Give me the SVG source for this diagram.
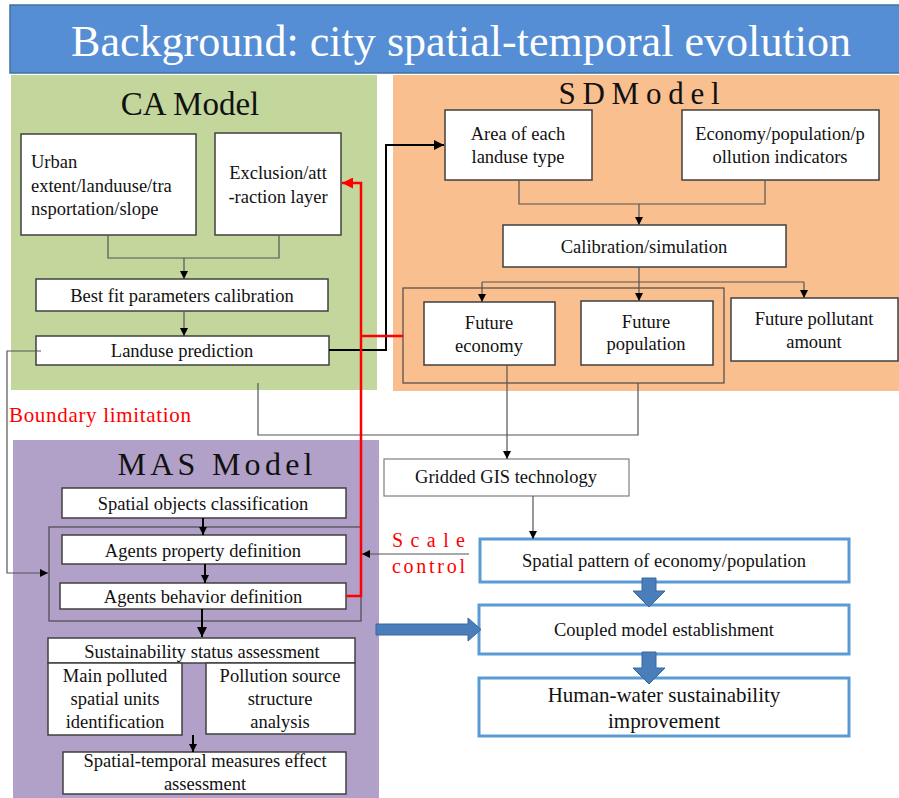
<svg xmlns="http://www.w3.org/2000/svg" width="899" height="798" viewBox="0 0 899 798" font-family="'Liberation Serif', 'DejaVu Serif', serif">
<defs>
<style>
text{font-family:'Liberation Serif','DejaVu Serif',serif;fill:#111;}
.t{font-size:18.5px;text-anchor:middle;}
.tl{font-size:18.5px;}
.box{fill:#fff;stroke:#404040;stroke-width:1.5;}
.bbox{fill:#fff;stroke:#5B9BD5;stroke-width:3;}
.grp{fill:none;stroke:#4a4a4a;stroke-width:1.2;}
.thin{fill:none;stroke:#555;stroke-width:1.2;}
.blk{fill:none;stroke:#000;stroke-width:2;}
.red{fill:none;stroke:#FF0000;stroke-width:2.5;}
.barrow{fill:#4A7EBB;stroke:#3B679C;stroke-width:1;}
.head{font-size:32px;text-anchor:middle;}
.redt{fill:#FF0000;}
</style>
<marker id="a" viewBox="0 0 10 10" refX="10" refY="5" markerWidth="8" markerHeight="8" markerUnits="userSpaceOnUse" orient="auto"><path d="M0,0 L10,5 L0,10 Z" fill="#000"/></marker>
<marker id="ab" viewBox="0 0 10 10" refX="10" refY="5" markerWidth="10" markerHeight="10" markerUnits="userSpaceOnUse" orient="auto"><path d="M0,0 L10,5 L0,10 Z" fill="#000"/></marker>
<marker id="ar" viewBox="0 0 10 10" refX="10" refY="5" markerWidth="11" markerHeight="11" markerUnits="userSpaceOnUse" orient="auto"><path d="M0,0 L10,5 L0,10 Z" fill="#FF0000"/></marker>
</defs>

<!-- Panels -->
<g id="banner">
<rect x="10" y="5" width="895" height="68" fill="#558ED5" stroke="#41719C" stroke-width="1.5"/>
<text x="461" y="56" font-size="44" text-anchor="middle" style="fill:#fff" textLength="780">Background: city spatial-temporal evolution</text>
</g>
<g id="ca-panel">
<rect x="11" y="75" width="366" height="315" fill="#C3D69B"/>
<text class="head" x="190" y="115" style="font-size:33px">CA Model</text>
</g>
<g id="sd-panel">
<rect x="393" y="75" width="506" height="316" fill="#F9BF8F"/>
<text class="head" x="639" y="104" style="font-size:31px" textLength="161" lengthAdjust="spacing">SDModel</text>
</g>
<g id="mas-panel">
<rect x="13" y="440" width="366" height="358" fill="#B1A0C7"/>
<text class="head" x="215" y="475" textLength="195" lengthAdjust="spacing">MAS Model</text>
</g>

<!-- CA nodes -->
<g id="urban">
<rect class="box" x="21" y="134" width="175" height="101"/>
<text class="tl" x="31" y="168">Urban</text>
<text class="tl" x="31" y="192">extent/landuuse/tra</text>
<text class="tl" x="31" y="215">nsportation/slope</text>
</g>
<g id="exclusion">
<rect class="box" x="215" y="133" width="126" height="102"/>
<text class="t" x="278" y="179">Exclusion/att</text>
<text class="t" x="278" y="203">-raction  layer</text>
</g>
<g id="bestfit">
<rect class="box" x="36" y="279" width="292" height="32"/>
<text class="t" x="182" y="302">Best fit parameters  calibration</text>
</g>
<g id="landuse">
<rect class="box" x="36" y="336" width="293" height="29"/>
<text class="t" x="182" y="357">Landuse  prediction</text>
</g>

<!-- SD nodes -->
<g id="area">
<rect class="box" x="445" y="110" width="147" height="70"/>
<text class="t" x="518" y="140">Area  of  each</text>
<text class="t" x="518" y="163">landuse  type</text>
</g>
<g id="economy">
<rect class="box" x="682" y="110" width="197" height="70"/>
<text class="t" x="780" y="140">Economy/population/p</text>
<text class="t" x="780" y="163">ollution  indicators</text>
</g>
<g id="calibration">
<rect class="box" x="503" y="225" width="283" height="42"/>
<text class="t" x="644" y="253">Calibration/simulation</text>
</g>
<g id="future-group">
<rect class="grp" x="403" y="288" width="321" height="95"/>
</g>
<g id="future-economy">
<rect class="box" x="424" y="302" width="131" height="63"/>
<text class="t" x="489" y="329">Future</text>
<text class="t" x="489" y="352">economy</text>
</g>
<g id="future-population">
<rect class="box" x="581" y="301" width="132" height="64"/>
<text class="t" x="646" y="328">Future</text>
<text class="t" x="646" y="350">population</text>
</g>
<g id="future-pollutant">
<rect class="box" x="731" y="298" width="167" height="63"/>
<text class="t" x="814" y="325">Future pollutant</text>
<text class="t" x="814" y="348">amount</text>
</g>

<!-- Middle nodes -->
<g id="gridded">
<rect x="384" y="459" width="245" height="37" fill="#fff" stroke="#7F7F7F" stroke-width="1.2"/>
<text class="t" x="506" y="483">Gridded  GIS technology</text>
</g>
<g id="spatial-pattern">
<rect class="bbox" x="480" y="539" width="369" height="43"/>
<text class="t" x="664" y="567">Spatial  pattern  of economy/population</text>
</g>
<g id="coupled">
<rect class="bbox" x="479" y="605" width="370" height="49"/>
<text class="t" x="664" y="636">Coupled  model  establishment</text>
</g>
<g id="human-water">
<rect class="bbox" x="479" y="678" width="370" height="58"/>
<text class="t" x="664" y="702" style="font-size:21px">Human-water  sustainability</text>
<text class="t" x="664" y="728" style="font-size:21px">improvement</text>
</g>

<!-- MAS nodes -->
<g id="agents-group">
<rect class="grp" x="49" y="527" width="312" height="94"/>
</g>
<g id="spatial-objects">
<rect class="box" x="62" y="488" width="284" height="30"/>
<text class="t" x="203" y="510">Spatial  objects  classification</text>
</g>
<g id="agents-property">
<rect class="box" x="62" y="535" width="284" height="29"/>
<text class="t" x="203" y="557">Agents  property  definition</text>
</g>
<g id="agents-behavior">
<rect class="box" x="60" y="583" width="286" height="26"/>
<text class="t" x="203" y="603">Agents  behavior  definition</text>
</g>
<g id="sustainability">
<rect class="box" x="48" y="638" width="307" height="25"/>
<text class="t" x="202" y="658">Sustainability  status  assessment</text>
</g>
<g id="main-polluted">
<rect class="box" x="48" y="663" width="134" height="72"/>
<text class="t" x="115" y="682">Main polluted</text>
<text class="t" x="115" y="705">spatial  units</text>
<text class="t" x="115" y="728">identification</text>
</g>
<g id="pollution-source">
<rect class="box" x="206" y="663" width="149" height="71"/>
<text class="t" x="280" y="682">Pollution  source</text>
<text class="t" x="280" y="705">structure</text>
<text class="t" x="280" y="728">analysis</text>
</g>
<g id="spatial-temporal">
<rect class="box" x="63" y="752" width="283" height="42"/>
<text class="t" x="205" y="767">Spatial-temporal  measures  effect</text>
<text class="t" x="205" y="790">assessment</text>
</g>

<!-- Labels -->
<g id="labels">
<text x="9" y="422" class="redt" style="font-size:21px" textLength="182" lengthAdjust="spacing">Boundary  limitation</text>
<text x="392" y="547" class="redt" style="font-size:20px" textLength="73" lengthAdjust="spacing">Scale</text>
<text x="392" y="573" class="redt" style="font-size:20px" textLength="73" lengthAdjust="spacing">control</text>
</g>

<!-- Connectors -->
<g id="connectors">
<path class="thin" d="M108,235 V258 H279 V235"/>
<path class="thin" d="M184,258 V279" marker-end="url(#a)"/>
<path class="thin" d="M184,311 V336" marker-end="url(#a)"/>
<path class="blk" d="M329,350 H386 V145 H444" marker-end="url(#ab)"/>
<path class="thin" d="M41,351 H7 V573 H48" marker-end="url(#a)"/>
<path class="thin" d="M258,383 V435 H638 V383"/>
<path class="thin" d="M519,180 V204 H765 V180"/>
<path class="thin" d="M639,204 V225" marker-end="url(#a)"/>
<path class="thin" d="M639,267 V301" marker-end="url(#a)"/>
<path class="thin" d="M482,282 H804"/>
<path class="thin" d="M482,282 V302" marker-end="url(#a)"/>
<path class="thin" d="M804,282 V298" marker-end="url(#a)"/>
<path class="thin" d="M507,365 V459" marker-end="url(#a)"/>
<path class="thin" d="M533,496 V539" marker-end="url(#a)"/>
<path class="thin" d="M469,554 H362" marker-end="url(#a)"/>
<path class="blk" d="M203,518 V535" marker-end="url(#a)"/>
<path class="blk" d="M205,564 V583" marker-end="url(#a)"/>
<path class="blk" d="M202,609 V637" stroke-width="3" marker-end="url(#ab)"/>
<path class="blk" d="M193,735 V752" marker-end="url(#a)"/>
<path class="red" d="M346,596 H361 V183 H342" marker-end="url(#ar)"/>
<path class="red" d="M361,336 H403"/>
<path class="barrow" d="M376,624 H468 V618 L481,629.5 L468,641 V635 H376 Z"/>
<path class="barrow" d="M642,578 H656 V591 H665 L649,607 L633,591 H642 Z"/>
<path class="barrow" d="M642,652 H656 V668 H665 L649,684 L633,668 H642 Z"/>
</g>
</svg>
